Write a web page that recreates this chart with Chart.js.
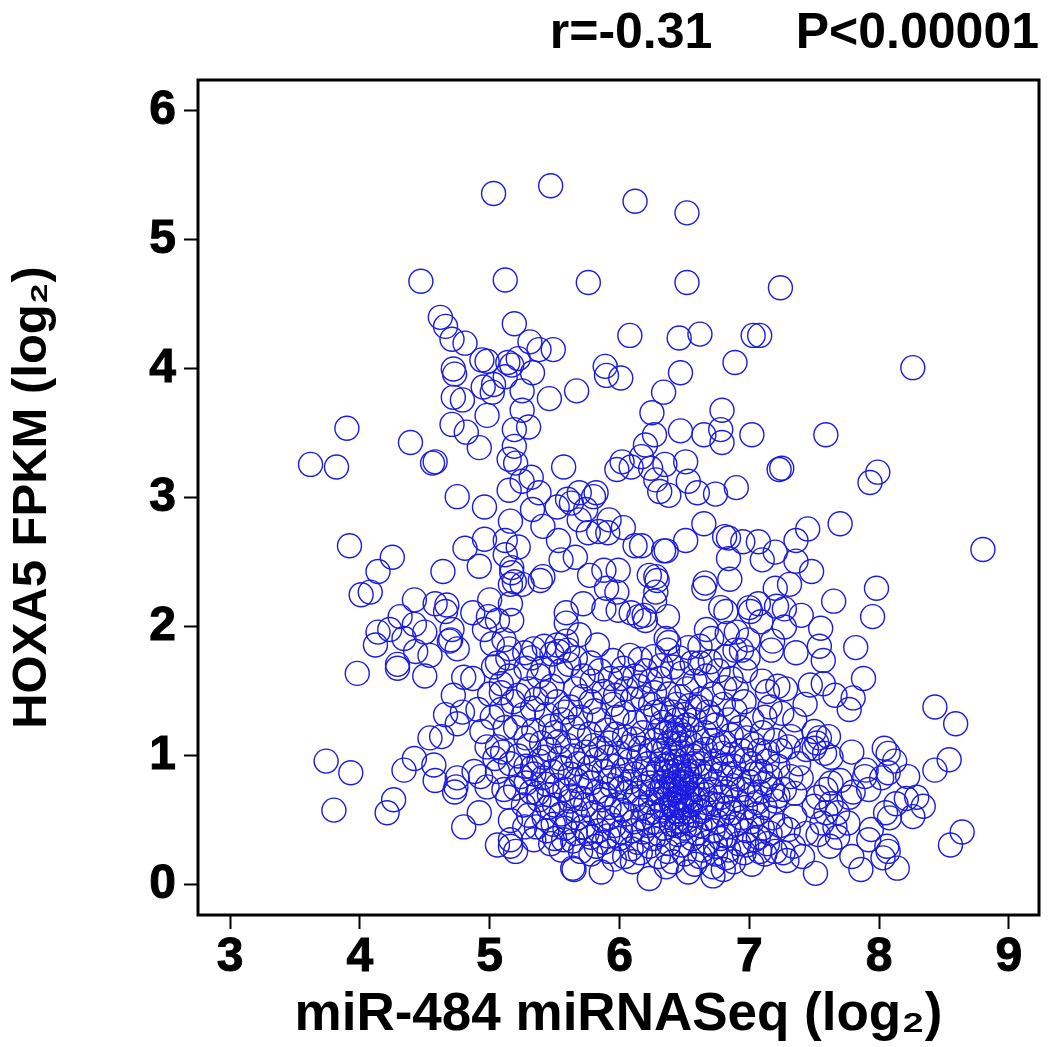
<!DOCTYPE html>
<html lang="en">
<head>
    <meta charset="UTF-8">
    <title>HOXA5 vs miR-484</title>
    <style>
        html, body { margin: 0; padding: 0; background: #fff; }
        canvas { display: block; }
    </style>
</head>
<body>
    <canvas id="scatterChart" width="1057" height="1047"></canvas>

    <script src="https://cdn.jsdelivr.net/npm/chart.js"></script>
    <script>
        const xTicks = [3, 4, 5, 6, 7, 8, 9];
        const yTicks = [0, 1, 2, 3, 4, 5, 6];
        const xLabel = 'miR-484 miRNASeq (log\u2082)';
        const yLabel = 'HOXA5 FPKM (log\u2082)';
        const statsText = 'r=-0.31      P<0.00001';

        // [miRNA, FPKM]
        const topPoints = [
            [5.03,5.36],[5.47,5.42],[6.12,5.30],[6.52,5.21],[4.47,4.68],[5.12,4.69],[5.76,4.67],[6.52,4.67],[7.24,4.63],
            [4.62,4.40],[4.66,4.33],[4.71,4.23],[4.81,4.20],[5.19,4.35],[5.31,4.21],[5.38,4.15],[5.49,4.15],[6.08,4.26],
            [4.94,4.07],[4.98,4.06],[5.14,4.05],[5.22,4.08],[5.17,4.03],[5.33,3.97],[4.72,4.00],[4.73,3.96],[5.89,4.02],
            [5.90,3.95],[6.01,3.93],[4.95,3.86],[5.03,3.88],[5.12,3.94],[5.25,3.83],[5.46,3.77],[5.67,3.83],[4.72,3.78],
            [4.79,3.76],[5.02,3.82],[6.46,4.24],[6.62,4.27],[7.03,4.26],[7.08,4.26],[8.26,4.01],[6.89,4.05],[6.47,3.97],
            [6.34,3.82],[6.79,3.68]
        ];
        const upperPoints = [
            [3.90,3.54],[3.62,3.26],[3.82,3.24],[4.39,3.43],[4.56,3.27],[4.58,3.28],[4.71,3.57],[4.82,3.51],[4.98,3.64],
            [5.25,3.68],[5.30,3.55],[5.19,3.53],[4.92,3.39],[5.19,3.40],[5.15,3.30],[5.20,3.27],[5.57,3.24],[5.15,3.06],
            [5.25,3.13],[5.32,3.16],[5.38,3.04],[4.75,3.01],[5.69,3.04],[5.82,3.04],[5.80,3.01],[6.25,3.66],[6.27,3.49],
            [6.47,3.52],[6.65,3.49],[6.78,3.53],[6.79,3.43],[7.02,3.49],[7.59,3.49],[6.20,3.41],[6.51,3.28],[6.35,3.26],
            [7.25,3.23],[7.23,3.22],[7.99,3.20],[7.93,3.12],[6.17,3.32],[6.24,3.23],[6.53,3.13],[6.28,3.14],[6.31,3.05],
            [6.38,3.02],[6.60,3.04],[6.74,3.03],[6.90,3.08],[5.98,3.22],[6.09,3.24],[6.02,3.28]
        ];
        const middlePoints = [
            [4.96,2.93],[5.33,2.91],[5.16,2.82],[5.41,2.78],[5.52,2.93],[5.60,2.99],[5.63,2.96],[5.74,2.91],[5.69,2.83],
            [5.92,2.83],[6.03,2.77],[5.76,2.73],[5.84,2.74],[5.91,2.73],[6.12,2.63],[3.92,2.63],[4.25,2.54],[4.14,2.43],
            [4.08,2.27],[4.01,2.25],[4.81,2.61],[4.96,2.68],[5.12,2.67],[5.22,2.62],[5.12,2.56],[4.92,2.47],[4.64,2.43],
            [5.17,2.46],[5.17,2.42],[5.16,2.33],[5.25,2.33],[5.19,2.35],[5.41,2.39],[5.39,2.36],[5.53,2.67],[5.55,2.52],
            [5.66,2.54],[5.77,2.40],[5.88,2.44],[5.99,2.44],[5.90,2.30],[5.98,2.27],[6.23,2.40],[5.72,2.18],[4.42,2.21],
            [5.00,2.21],[5.16,2.18],[5.59,2.11],[4.58,2.18],[4.67,2.17],[4.66,2.12],[4.87,2.11],[4.99,2.08],[5.06,2.05],
            [5.17,2.05],[5.88,2.14],[5.99,2.13],[6.09,2.11],[6.15,2.08],[6.20,2.05],[5.59,2.03],[4.31,2.08],[6.65,2.80],
            [6.51,2.67],[6.81,2.70],[6.84,2.69],[6.95,2.66],[7.07,2.66],[7.20,2.58],[7.10,2.52],[6.84,2.53],[7.36,2.67],
            [7.45,2.76],[7.70,2.80],[8.80,2.60],[7.36,2.51],[7.48,2.43],[6.34,2.59],[6.36,2.59],[6.17,2.63],[6.85,2.37],
            [6.66,2.34],[6.65,2.30],[6.28,2.39],[6.29,2.36],[7.31,2.33],[7.20,2.30],[7.98,2.30],[7.65,2.20],[7.95,2.08],
            [6.28,2.27],[6.27,2.20],[6.78,2.15],[6.82,2.12],[7.00,2.15],[7.07,2.18],[7.01,2.12],[7.21,2.16],[7.27,2.14],
            [7.40,2.09],[6.37,2.08],[6.19,2.09],[7.09,2.04]
        ];
        const leftPoints = [
            [4.14,1.96],[4.23,1.98],[4.42,2.02],[4.50,1.96],[4.34,1.91],[4.12,1.86],[4.43,1.81],[4.71,1.98],[4.70,1.90],
            [4.69,1.89],[4.75,1.83],[4.96,1.98],[5.02,1.87],[4.54,1.78],[4.29,1.71],[3.98,1.64],[5.11,1.90],[5.15,1.83],
            [5.06,1.72],[5.14,1.76],[4.29,1.68],[4.50,1.62],[4.80,1.61],[4.87,1.60],[4.72,1.47],[4.66,1.32],[4.75,1.25],
            [4.79,1.34],[4.91,1.36],[4.94,1.19],[4.54,1.14],[4.63,1.15],[4.42,0.98],[4.34,0.89],[4.57,0.93],[4.58,0.81],
            [4.75,0.83],[4.74,0.76],[4.73,0.72],[4.88,0.88],[3.74,0.96],[3.93,0.87],[3.80,0.58],[4.26,0.66],[4.21,0.56],
            [4.92,0.56],[4.80,0.45],[5.06,0.31],[5.16,0.30],[5.20,0.26],[5.64,0.13],[5.16,0.35],[4.98,1.07],[5.06,1.07],
            [5.16,0.94],[5.06,0.88],[4.98,0.76],[4.93,0.84],[5.11,0.74],[5.14,0.68],[5.16,0.50],[5.27,0.45],[5.34,0.35],
            [5.47,0.32],[5.57,0.35],[5.09,1.49],[5.03,1.69],[5.09,1.56],[5.09,1.36],[5.00,1.48],[5.02,1.30],[5.12,1.22],
            [5.04,0.98],[5.10,1.03],[5.15,1.62],[5.18,1.42]
        ];
        const rightPoints = [
            [7.36,1.80],[7.57,1.74],[7.82,1.84],[7.88,1.60],[7.47,1.55],[7.57,1.56],[7.66,1.47],[7.80,1.45],[7.77,1.36],
            [7.43,1.40],[8.43,1.38],[8.59,1.25],[7.79,1.03],[8.54,0.97],[8.43,0.89],[8.64,0.41],[8.55,0.31],[8.04,1.06],
            [8.07,1.02],[8.12,0.96],[8.22,0.84],[7.90,0.89],[7.89,0.84],[8.02,0.83],[8.07,0.87],[7.92,0.74],[7.80,0.72],
            [7.70,0.81],[7.63,0.79],[7.77,0.68],[8.34,0.61],[8.26,0.53],[8.29,0.68],[8.21,0.67],[8.13,0.63],[8.05,0.56],
            [8.08,0.52],[7.94,0.43],[7.92,0.35],[8.06,0.30],[8.07,0.26],[8.03,0.21],[8.14,0.13],[7.79,0.22],[7.86,0.12],
            [7.51,0.09],[7.41,0.22],[7.62,0.30],[7.35,1.28],[7.50,1.19],[7.61,1.15],[7.54,1.14],[7.52,1.10],[7.44,1.05],
            [7.50,1.06],[7.63,0.99],[7.58,1.02],[7.32,1.15],[7.30,1.07],[7.38,0.94],[7.32,0.84],[7.40,0.83],[7.27,0.74],
            [7.35,0.71],[7.53,0.68],[7.59,0.74],[7.50,0.61],[7.63,0.63],[7.59,0.56],[7.68,0.56],[7.76,0.48],[7.66,0.45],
            [7.56,0.48],[7.44,0.40],[7.53,0.39],[7.68,0.37],[7.35,0.53],[7.30,0.43],[7.26,0.25],[7.34,0.30],[7.29,0.19]
        ];
        const densePoints = [
            [5.27,1.80],[5.34,1.83],[5.42,1.85],[5.52,1.86],[5.59,1.89],[5.53,1.81],[5.60,1.82],[5.69,1.94],[5.83,1.86],[6.36,1.91],
            [6.38,1.88],[6.62,1.85],[6.53,1.84],[6.37,1.82],[6.94,1.82],[6.89,1.82],[6.99,1.90],[6.67,1.98],[6.90,1.96],[6.83,1.95],
            [6.71,1.91],[7.18,1.89],[7.17,1.82],[7.27,2.00],[7.55,1.99],[7.54,1.85],[6.99,1.76],[6.82,1.77],[6.26,1.77],[6.41,1.69],
            [6.62,1.72],[6.70,1.73],[5.32,1.76],[5.48,1.79],[5.66,1.76],[5.78,1.72],[5.95,1.74],[6.08,1.78],[6.16,1.75],[6.03,1.68],
            [5.28,1.68],[5.38,1.62],[5.55,1.66],[5.72,1.62],[5.85,1.66],[5.93,1.60],[6.12,1.62],[6.20,1.66],[6.31,1.60],[6.48,1.64],
            [6.58,1.58],[6.76,1.66],[6.86,1.60],[6.97,1.66],[7.10,1.58],[7.22,1.54],[7.28,1.52],[7.14,1.50],[6.90,1.52],[6.72,1.48],
            [6.52,1.52],[6.38,1.48],[6.15,1.54],[6.05,1.52],[5.88,1.50],[5.66,1.52],[5.48,1.54],[5.30,1.52],[5.22,1.47],[5.36,1.44],
            [5.52,1.42],[5.62,1.38],[5.78,1.42],[5.95,1.40],[6.10,1.44],[6.24,1.40],[6.34,1.36],[6.44,1.40],[6.60,1.38],[6.68,1.34],
            [6.80,1.40],[6.96,1.42],[7.16,1.38],[7.25,1.33],[7.12,1.30],[7.02,1.28],[6.84,1.28],[6.74,1.24],[6.58,1.28],[6.50,1.32],
            [6.44,1.28],[6.40,1.22],[6.46,1.20],[6.36,1.18],[6.50,1.16],[6.43,1.14],[6.38,1.10],[6.47,1.09],[6.52,1.24],[6.33,1.26],
            [6.22,1.30],[6.12,1.26],[5.98,1.30],[5.84,1.28],[5.70,1.30],[5.56,1.28],[5.44,1.32],[5.26,1.32],[5.20,1.22],[5.34,1.20],
            [5.50,1.18],[5.64,1.22],[5.77,1.17],[5.90,1.20],[6.04,1.15],[6.18,1.18],[6.28,1.12],[6.60,1.14],[6.72,1.12],[6.86,1.16],
            [6.98,1.14],[7.10,1.18],[7.20,1.12],[7.24,1.04],[7.08,1.04],[6.94,1.04],[6.80,1.02],[6.66,1.05],[6.56,1.00],[6.42,1.02],
            [6.30,1.04],[6.16,1.06],[6.00,1.02],[5.86,1.06],[5.74,1.03],[5.60,1.08],[5.46,1.05],[5.30,1.08],[5.22,1.00],[5.38,0.96],
            [5.54,0.98],[5.68,0.94],[5.82,0.97],[5.95,0.92],[6.08,0.96],[6.22,0.94],[6.36,0.93],[6.44,0.96],[6.50,0.92],[6.62,0.94],
            [6.74,0.96],[6.88,0.92],[7.02,0.94],[7.14,0.96],[7.22,0.92],[7.16,0.84],[7.04,0.86],[6.92,0.82],[6.78,0.86],[6.66,0.84],
            [6.54,0.88],[6.47,0.85],[6.42,0.88],[6.38,0.84],[6.45,0.80],[6.50,0.82],[6.40,0.78],[6.34,0.80],[6.48,0.76],[6.43,0.74],
            [6.56,0.78],[6.26,0.84],[6.12,0.86],[6.00,0.82],[5.88,0.88],[5.75,0.84],[5.62,0.86],[5.48,0.88],[5.34,0.86],[5.24,0.84],
            [5.20,0.75],[5.32,0.72],[5.44,0.78],[5.58,0.74],[5.70,0.76],[5.83,0.72],[5.94,0.77],[6.06,0.72],[6.18,0.76],[6.30,0.72],
            [6.38,0.70],[6.46,0.68],[6.53,0.71],[6.60,0.66],[6.70,0.74],[6.82,0.72],[6.95,0.74],[7.08,0.72],[7.18,0.74],[7.20,0.65],
            [7.06,0.64],[6.90,0.66],[6.76,0.62],[6.65,0.60],[6.55,0.62],[6.48,0.60],[6.42,0.62],[6.36,0.60],[6.24,0.64],[6.12,0.66],
            [5.98,0.62],[5.86,0.66],[5.74,0.62],[5.62,0.65],[5.50,0.62],[5.38,0.66],[5.26,0.62],[5.30,0.54],[5.42,0.52],[5.55,0.55],
            [5.68,0.52],[5.80,0.56],[5.92,0.52],[6.05,0.55],[6.18,0.52],[6.30,0.54],[6.40,0.52],[6.46,0.55],[6.52,0.50],[6.58,0.54],
            [6.68,0.52],[6.80,0.55],[6.94,0.52],[7.06,0.55],[7.18,0.52],[7.24,0.46],[7.10,0.44],[6.98,0.42],[6.84,0.45],[6.72,0.42],
            [6.62,0.46],[6.50,0.44],[6.44,0.46],[6.34,0.44],[6.22,0.46],[6.10,0.42],[5.96,0.46],[5.84,0.42],[5.72,0.45],[5.58,0.44],
            [5.44,0.42],[5.36,0.45],[5.50,0.36],[5.64,0.34],[5.78,0.37],[5.88,0.33],[6.00,0.36],[6.14,0.33],[6.26,0.36],[6.38,0.32],
            [6.56,0.36],[6.68,0.33],[6.78,0.36],[6.92,0.32],[7.04,0.35],[7.14,0.32],[7.20,0.26],[7.08,0.26],[6.96,0.25],[6.84,0.27],
            [6.74,0.24],[6.64,0.27],[6.50,0.24],[6.41,0.18],[6.30,0.22],[6.16,0.25],[6.04,0.22],[5.92,0.26],[5.78,0.24],[5.65,0.12],
            [5.86,0.10],[6.23,0.05],[6.53,0.10],[6.72,0.07],[6.72,0.14],[6.58,0.16],[6.36,0.14],[6.10,0.18],[5.96,0.20],[5.70,0.26],
            [7.02,0.16],[7.12,0.24],[6.88,0.18],[6.32,1.70],[6.56,1.72],[6.46,1.76],[6.18,1.45],[5.40,1.10],[5.92,1.10],[6.70,0.90],
            [6.02,0.58],[5.66,0.58],[5.46,0.70],[5.28,0.92],[6.84,0.60],[7.00,0.80],[7.12,0.60],[6.30,0.90],[6.24,0.56],[6.76,1.08]
        ];
        const coreExtraPoints = [
            [5.41,1.68],[5.61,1.71],[5.79,1.58],[6.01,1.60],[6.24,1.58],[6.67,1.62],[6.81,1.53],[5.43,1.49],[5.71,1.46],[5.97,1.47],
            [6.27,1.49],[6.47,1.46],[6.63,1.44],[6.89,1.35],[5.33,1.37],[5.58,1.34],[5.81,1.35],[6.03,1.33],[6.28,1.34],[6.41,1.34],
            [6.54,1.39],[6.71,1.30],[6.93,1.22],[5.47,1.23],[5.69,1.15],[5.97,1.17],[6.11,1.13],[6.31,1.20],[6.42,1.17],[6.55,1.10],
            [6.66,1.18],[6.81,1.10],[7.03,1.09],[5.28,1.14],[5.53,1.11],[5.80,1.08],[6.07,1.07],[6.24,1.04],[6.35,1.05],[6.48,1.03],
            [6.61,1.02],[6.87,1.01],[7.14,1.03],[5.42,0.99],[5.64,1.00],[5.90,0.99],[6.15,0.99],[6.33,0.97],[6.40,0.95],[6.57,0.94],
            [6.81,0.93],[6.97,0.97],[5.33,0.91],[5.55,0.91],[5.77,0.91],[6.03,0.89],[6.19,0.90],[6.36,0.88],[6.46,0.90],[6.52,0.86],
            [6.62,0.88],[6.85,0.86],[7.09,0.88],[5.41,0.83],[5.67,0.81],[5.93,0.83],[6.08,0.80],[6.23,0.79],[6.33,0.76],[6.42,0.82],
            [6.46,0.72],[6.51,0.79],[6.60,0.74],[6.74,0.80],[6.87,0.77],[7.12,0.79],[5.28,0.79],[5.52,0.77],[5.78,0.79],[6.01,0.75],
            [6.25,0.71],[6.36,0.74],[6.43,0.67],[6.51,0.66],[6.66,0.70],[6.78,0.68],[7.01,0.70],[7.22,0.69],[5.37,0.71],[5.63,0.69],
            [5.89,0.70],[6.14,0.71],[6.31,0.66],[6.40,0.63],[6.47,0.64],[6.57,0.67],[6.71,0.63],[6.97,0.60],[5.45,0.60],[5.71,0.67],
            [5.92,0.60],[6.18,0.60],[6.33,0.58],[6.44,0.57],[6.52,0.57],[6.63,0.57],[6.87,0.56],[7.02,0.49],[5.60,0.49],[5.87,0.50],
            [6.11,0.49],[6.27,0.49],[6.40,0.47],[6.48,0.49],[6.55,0.47],[6.75,0.49],[6.90,0.47],[7.16,0.40],[5.49,0.47],[5.75,0.40],
            [6.01,0.41],[6.18,0.41],[6.31,0.39],[6.45,0.39],[6.60,0.40],[6.82,0.38],[7.07,0.37],[5.66,0.40],[5.91,0.38],[6.23,0.30],
            [6.48,0.31],[6.74,0.30],[6.98,0.31],[5.82,0.30],[6.09,0.28],[6.37,0.26],[6.62,0.22],[6.82,0.21],[5.55,0.27],[6.80,0.12]
        ];

        const allPoints = [...topPoints, ...upperPoints, ...middlePoints, ...leftPoints, ...rightPoints, ...densePoints, ...coreExtraPoints];

        // frame round the plot, ticks only sit on the left and bottom
        const boxPlugin = {
            id: 'plotBox',
            afterDraw(chart) {
                const { ctx, chartArea } = chart;
                ctx.save();
                ctx.strokeStyle = '#000';
                ctx.lineWidth = 3;
                ctx.strokeRect(chartArea.left, chartArea.top, chartArea.right - chartArea.left, chartArea.bottom - chartArea.top);
                ctx.restore();
            }
        };

        new Chart(document.getElementById('scatterChart'), {
            type: 'scatter',
            data: {
                datasets: [{
                    data: allPoints.map(p => ({ x: p[0], y: p[1] })),
                    pointStyle: 'circle',
                    pointRadius: 12,
                    backgroundColor: 'rgba(0,0,0,0)',
                    borderColor: '#1c1ce0',
                    borderWidth: 1.4
                }]
            },
            options: {
                responsive: false,
                animation: false,
                layout: { padding: { right: 18 } },
                plugins: {
                    legend: { display: false },
                    tooltip: { enabled: false },
                    title: {
                        display: true,
                        text: statsText,
                        align: 'end',
                        color: '#000',
                        font: { family: 'Liberation Sans', size: 50, weight: 'bold', lineHeight: 1.2 },
                        padding: { top: 4, bottom: 16 }
                    }
                },
                scales: {
                    x: {
                        type: 'linear',
                        min: 2.753,
                        max: 9.232,
                        afterBuildTicks(axis) { axis.ticks = xTicks.map(v => ({ value: v })); },
                        afterFit(axis) { axis.height = 132; },
                        grid: { drawOnChartArea: false, tickLength: 14, tickColor: '#000', tickWidth: 2 },
                        border: { display: false },
                        ticks: {
                            color: '#000',
                            padding: 0,
                            maxRotation: 0,
                            textStrokeColor: '#000',
                            textStrokeWidth: 1,
                            font: { family: 'Liberation Sans', size: 48, weight: 'bold' }
                        },
                        title: {
                            display: true,
                            text: xLabel,
                            color: '#000',
                            padding: 0,
                            font: { family: 'Liberation Sans', size: 53, weight: 'bold' }
                        }
                    },
                    y: {
                        type: 'linear',
                        min: -0.233,
                        max: 6.24,
                        afterBuildTicks(axis) { axis.ticks = yTicks.map(v => ({ value: v })); },
                        afterFit(axis) { axis.width = 198; },
                        grid: { drawOnChartArea: false, tickLength: 14, tickColor: '#000', tickWidth: 2 },
                        border: { display: false },
                        ticks: {
                            color: '#000',
                            padding: 8,
                            textStrokeColor: '#000',
                            textStrokeWidth: 1,
                            font: { family: 'Liberation Sans', size: 48, weight: 'bold' }
                        },
                        title: {
                            display: true,
                            text: yLabel,
                            color: '#000',
                            padding: { top: 3, bottom: 0 },
                            font: { family: 'Liberation Sans', size: 49, weight: 'bold' }
                        }
                    }
                }
            },
            plugins: [boxPlugin]
        });
    </script>
</body>
</html>
